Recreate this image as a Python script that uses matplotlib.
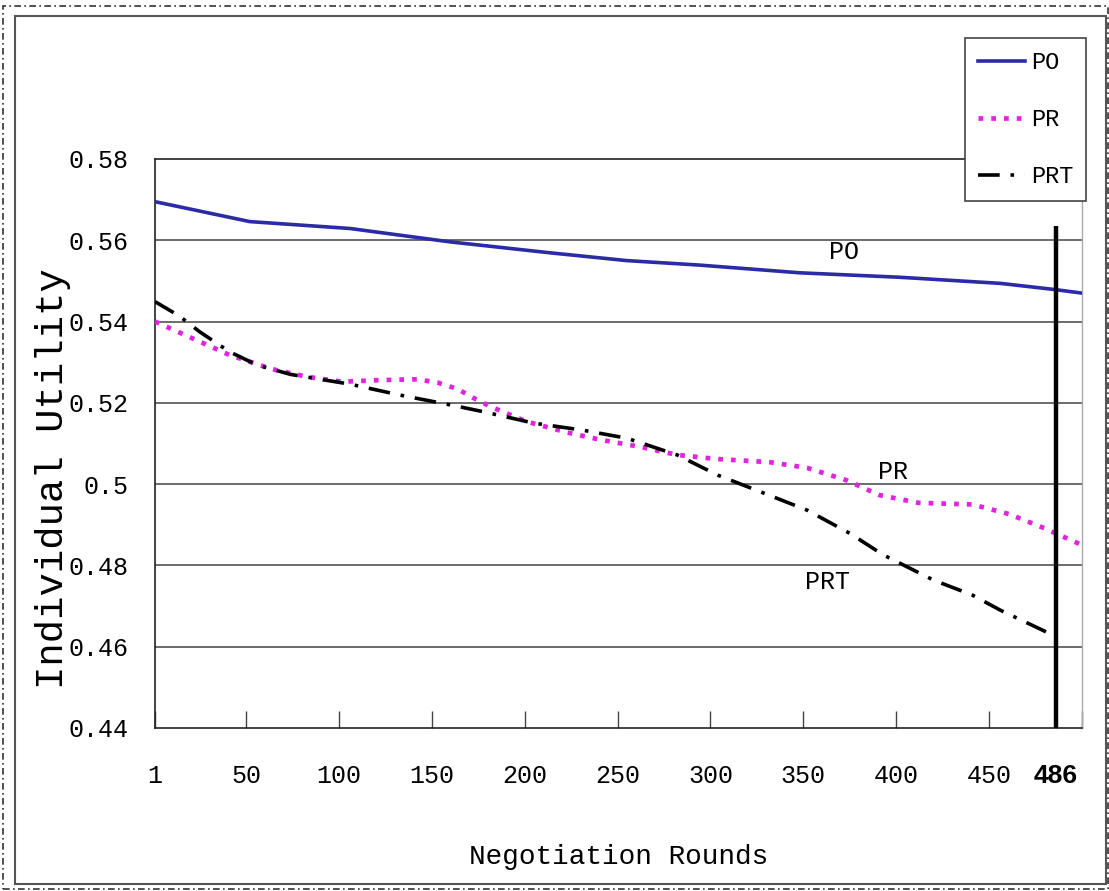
import matplotlib
matplotlib.use("Agg")
import matplotlib.pyplot as plt
from matplotlib.patches import Rectangle

# ---- data ----
po_x = [1, 52, 106, 160, 214, 255, 294, 348, 402, 456, 485, 500]
po_y = [0.5695, 0.5646, 0.5629, 0.5596, 0.5569, 0.5550, 0.5539, 0.5520, 0.5509, 0.5494, 0.5479, 0.5470]

pr_x = [1, 22, 41, 64, 83, 102, 122, 142, 153, 164, 172, 182, 201, 223, 241, 262, 282,
        303, 332, 352, 373, 391, 412, 441, 461, 480, 500]
pr_y = [0.5400, 0.5357, 0.5318, 0.5283, 0.5264, 0.5252, 0.5256, 0.5258, 0.5250, 0.5234,
        0.5213, 0.5190, 0.5154, 0.5127, 0.5109, 0.5092, 0.5072, 0.5062, 0.5054, 0.5040,
        0.5010, 0.4973, 0.4954, 0.4950, 0.4926, 0.4891, 0.4850]

prt_x = [1, 14, 25, 41, 56, 74, 106, 133, 160, 178, 205, 231, 255, 282, 304, 327, 352,
         375, 393, 420, 441, 456, 486]
prt_y = [0.5449, 0.5414, 0.5375, 0.5326, 0.5293, 0.5270, 0.5246, 0.5219, 0.5195, 0.5178,
         0.5150, 0.5133, 0.5113, 0.5072, 0.5022, 0.4981, 0.4936, 0.4879, 0.4826, 0.4764,
         0.4727, 0.4690, 0.4625]

series_names = ["PO", "PR", "PRT"]
x_ticks = [1, 50, 100, 150, 200, 250, 300, 350, 400, 450, 486, 500]
x_tick_labels = ["1", "50", "100", "150", "200", "250", "300", "350", "400", "450", "486", ""]
y_ticks = [0.44, 0.46, 0.48, 0.50, 0.52, 0.54, 0.56, 0.58]
y_tick_labels = ["0.44", "0.46", "0.48", "0.5", "0.52", "0.54", "0.56", "0.58"]
marker_round = 486
marker_top = 0.5635
label_pos = {"PO": (372, 0.5571), "PR": (398, 0.5030), "PRT": (363, 0.4760)}

MONO = "Liberation Mono"

fig = plt.figure(figsize=(11.09, 8.91), dpi=100)
ax = fig.add_axes([155 / 1109, 1 - 728 / 891, (1082 - 155) / 1109, (728 - 159) / 891])

# grid lines
for yv in y_ticks[1:-1]:
    ax.axhline(yv, color="#444444", lw=1.1, zorder=1)

l_po, = ax.plot(po_x, po_y, color="#2B2BA6", lw=2.6, zorder=3, label=series_names[0])
l_pr, = ax.plot(pr_x, pr_y, color="#E024E0", lw=3.4, linestyle=(0, (1.0, 1.7)),
                zorder=3, label=series_names[1])
l_prt, = ax.plot(prt_x, prt_y, color="black", lw=2.6, linestyle=(0, (6, 3, 1, 3)),
                 zorder=3, label=series_names[2])

ax.plot([marker_round, marker_round], [0.44, marker_top], color="black", lw=3.2, zorder=4,
        solid_capstyle="butt")

for name, (xx, yy) in label_pos.items():
    ax.text(xx, yy, name, fontsize=18, family=MONO, ha="center", va="center", zorder=5)

ax.set_xlim(1, 500)
ax.set_ylim(0.44, 0.58)

ax.set_xticks(x_ticks)
ax.set_xticklabels(x_tick_labels, fontsize=18, family=MONO)
ax.set_yticks(y_ticks)
ax.set_yticklabels(y_tick_labels, fontsize=18, family=MONO)
ax.tick_params(axis="x", direction="in", length=12, width=1, color="#444444", pad=26)
ax.tick_params(axis="y", length=0, pad=19)
for lbl in ax.get_xticklabels():
    if lbl.get_text() == "486":
        lbl.set_family("Liberation Sans")
        lbl.set_fontweight("bold")
        lbl.set_fontsize(19)

for side in ["left", "bottom", "top"]:
    ax.spines[side].set_color("#222222")
    ax.spines[side].set_linewidth(1.2)
ax.spines["right"].set_color("#AAAAAA")
ax.spines["right"].set_linewidth(1.0)

ax.set_xlabel("Negotiation Rounds", fontsize=20, family=MONO, labelpad=40)
ax.set_ylabel("Individual Utility", fontsize=28, family=MONO)
ax.yaxis.label.set_verticalalignment("center")
ax.yaxis.set_label_coords((53 - 155) / 927, (728 - 479) / 569)

leg = fig.legend(handles=[l_po, l_pr, l_prt], loc="upper right",
                 bbox_to_anchor=(1086 / 1109, 1 - 38 / 891),
                 prop={"family": MONO, "size": 17}, frameon=True, fancybox=False,
                 handlelength=2.0, handletextpad=0.25, labelspacing=1.45,
                 borderpad=0.55, borderaxespad=0)
leg.get_frame().set_edgecolor("#444444")
leg.get_frame().set_linewidth(1.2)
leg.get_frame().set_alpha(1)

# outer borders
fig.patches.append(Rectangle((15 / 1109, 1 - 884 / 891), (1106 - 15) / 1109, (884 - 16) / 891,
                             transform=fig.transFigure, fill=False, edgecolor="#555555",
                             lw=1.5, zorder=0))
fig.patches.append(Rectangle((3 / 1109, 1 - 889 / 891), (1108 - 3) / 1109, (889 - 6) / 891,
                             transform=fig.transFigure, fill=False, edgecolor="#333333",
                             lw=1.2, linestyle=(0, (4, 2, 1, 2)), zorder=0))

fig.savefig("out.png", dpi=100)
